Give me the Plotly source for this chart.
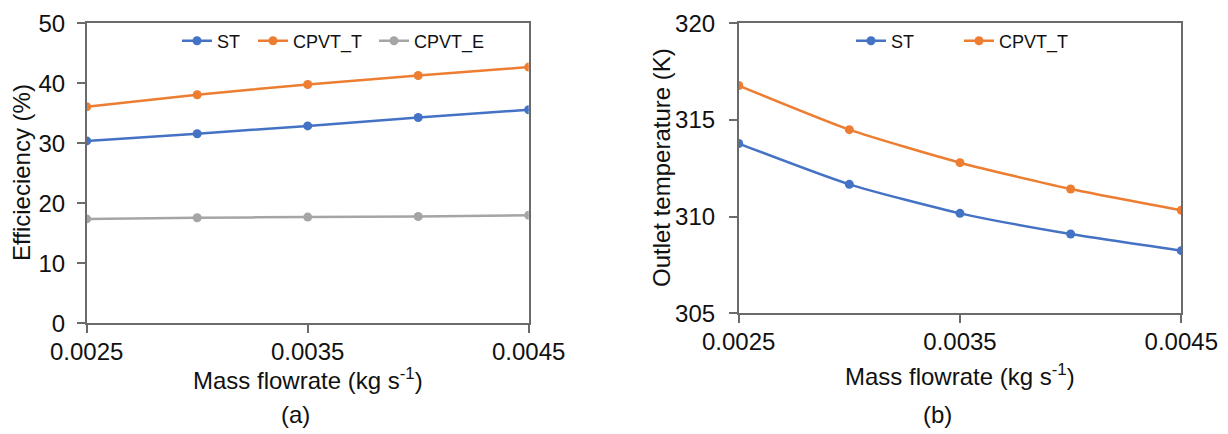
import plotly.graph_objects as go

mass_flow = [0.0025, 0.0030, 0.0035, 0.0040, 0.0045]
eff_st = [30.4, 31.6, 32.9, 34.3, 35.6]
eff_cpvt_t = [36.1, 38.1, 39.8, 41.3, 42.7]
eff_cpvt_e = [17.4, 17.6, 17.7, 17.8, 18.0]
temp_st = [313.78, 311.67, 310.17, 309.10, 308.24]
temp_cpvt_t = [316.78, 314.50, 312.79, 311.43, 310.33]
x_ticks = [0.0025, 0.0035, 0.0045]
x_tick_labels = ["0.0025", "0.0035", "0.0045"]

BLUE = "#4472C4"
ORANGE = "#ED7D31"
GRAY = "#A5A5A5"
FONT = "Arial, Liberation Sans, sans-serif"
TXT = "#111111"

# The page body has an 8px default margin; lay out in window pixels minus 8.
OFF = 8
W, H = 1228 - OFF, 434 - OFF
def px(x):
    return (x - OFF) / W
def py(y):
    return 1 - (y - OFF) / H

fig = go.Figure()

def add(x, y, name, color, xa, ya, legend):
    fig.add_trace(go.Scatter(
        x=x, y=y, name=name, mode="lines+markers",
        line=dict(color=color, width=2.5, shape="spline", smoothing=0.6),
        marker=dict(color=color, size=9),
        xaxis=xa, yaxis=ya, legend=legend))

add(mass_flow, eff_st, "ST", BLUE, "x", "y", "legend")
add(mass_flow, eff_cpvt_t, "CPVT_T", ORANGE, "x", "y", "legend2")
add(mass_flow, eff_cpvt_e, "CPVT_E", GRAY, "x", "y", "legend3")
add(mass_flow, temp_st, "ST", BLUE, "x2", "y2", "legend4")
add(mass_flow, temp_cpvt_t, "CPVT_T", ORANGE, "x2", "y2", "legend5")

axis_common = dict(
    showgrid=False, zeroline=False, showline=True, linecolor="#6b6b6b",
    linewidth=1.5, mirror=True, ticks="outside", ticklen=8, tickcolor="#6b6b6b",
    tickwidth=1.5, tickfont=dict(family=FONT, size=24, color=TXT), automargin=False,
)

def leg(xpos):
    return dict(orientation="h", x=px(xpos), y=py(41), xanchor="left", yanchor="middle",
                font=dict(family=FONT, size=18, color=TXT), bgcolor="rgba(0,0,0,0)",
                itemwidth=30)

fig.update_layout(
    template="none",
    width=W, height=H,
    margin=dict(l=0, r=0, t=0, b=0, autoexpand=False),
    paper_bgcolor="white", plot_bgcolor="white",
    font=dict(family=FONT, color=TXT),
    xaxis=dict(domain=[px(86.7), px(528.7)], range=[0.0025, 0.0045],
               tickvals=x_ticks, ticktext=x_tick_labels, anchor="y",
               ticklabelstandoff=-2, **axis_common),
    yaxis=dict(domain=[py(323.3), py(23.3)], range=[0, 50], dtick=10,
               anchor="x", ticklabelstandoff=7, **axis_common),
    xaxis2=dict(domain=[px(738.7), px(1181.3)], range=[0.0025, 0.0045],
                tickvals=x_ticks, ticktext=x_tick_labels, anchor="y2",
                ticklabelstandoff=-2, **axis_common),
    yaxis2=dict(domain=[py(313.3), py(23.3)], range=[305, 320], dtick=5,
                anchor="x2", ticklabelstandoff=9, **axis_common),
    legend=leg(177),
    legend2=leg(253),
    legend3=leg(374),
    legend4=leg(851),
    legend5=leg(959),
    showlegend=True,
)

ann = [
    dict(text="Mass flowrate (kg s<sup>-1</sup>)", x=px(307.7), y=py(379)),
    dict(text="Mass flowrate (kg s<sup>-1</sup>)", x=px(960), y=py(375)),
    dict(text="Efficieciency (%)", x=px(22), y=py(173), textangle=-90),
    dict(text="Outlet temperature (K)", x=px(661), y=py(168), textangle=-90),
    dict(text="(a)", x=px(295), y=py(414)),
    dict(text="(b)", x=px(937), y=py(414)),
]
for a in ann:
    fig.add_annotation(xref="paper", yref="paper", showarrow=False,
                       xanchor="center", yanchor="middle",
                       font=dict(family=FONT, size=24, color=TXT), **a)

fig.write_html("out.html")
